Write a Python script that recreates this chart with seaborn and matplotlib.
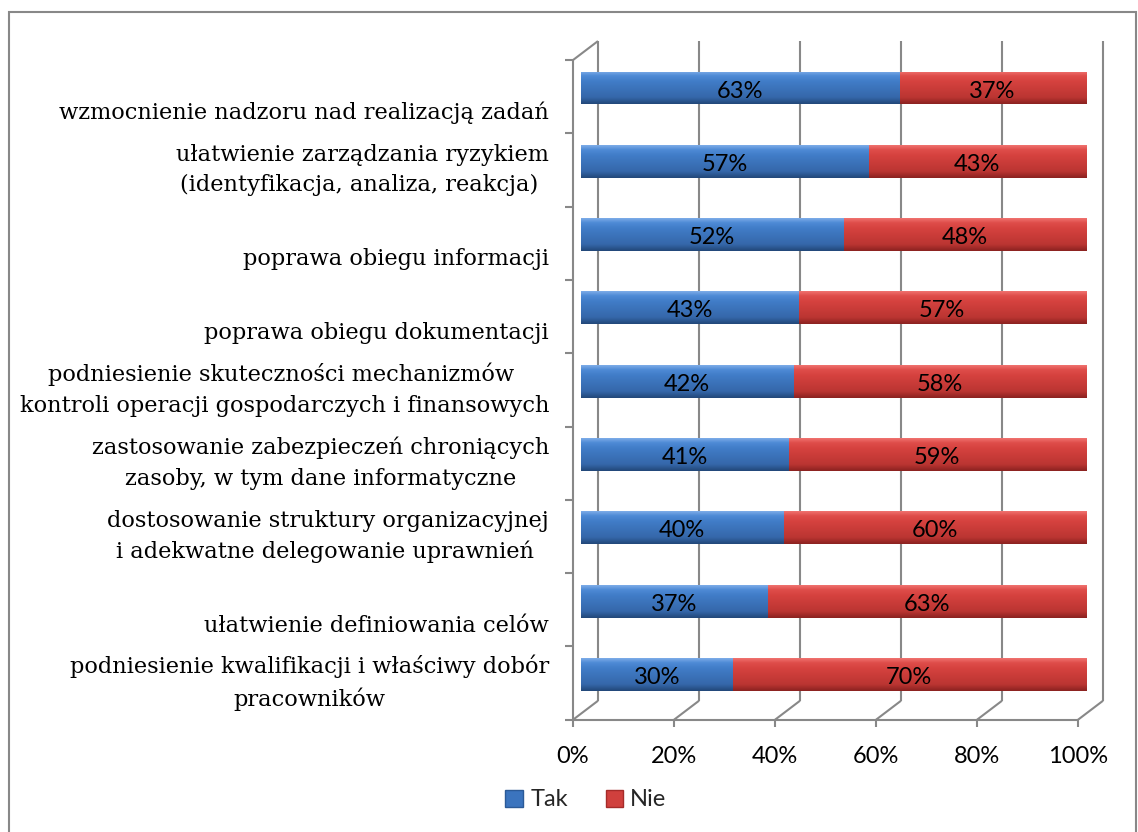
import numpy as np
import pandas as pd
import matplotlib
matplotlib.use("Agg")
import matplotlib.pyplot as plt
import matplotlib.transforms as mtransforms
from matplotlib.colors import LinearSegmentedColormap
from matplotlib.lines import Line2D
from matplotlib.patches import Patch, Rectangle
import seaborn as sns

# ---- data -------------------------------------------------------------
categories = [
    "wzmocnienie nadzoru nad realizacją zadań",
    "ułatwienie zarządzania ryzykiem\n(identyfikacja, analiza, reakcja) ",
    "poprawa obiegu informacji",
    "poprawa obiegu dokumentacji",
    "podniesienie skuteczności mechanizmów \nkontroli operacji gospodarczych i finansowych",
    "zastosowanie zabezpieczeń chroniących\nzasoby, w tym dane informatyczne",
    "dostosowanie struktury organizacyjnej\ni adekwatne delegowanie uprawnień ",
    "ułatwienie definiowania celów",
    "podniesienie kwalifikacji i właściwy dobór\npracowników",
]
tak = [63, 57, 52, 43, 42, 41, 40, 37, 30]
nie = [37, 43, 48, 57, 58, 59, 60, 63, 70]
series_names = ["Tak", "Nie"]
x_ticks = [0, 20, 40, 60, 80, 100]
x_tick_labels = ["0%", "20%", "40%", "60%", "80%", "100%"]

# ---- style ------------------------------------------------------------
sns.set_theme(style="white")
plt.rcParams["font.family"] = ["Lato", "DejaVu Sans"]
SERIF = ["DejaVu Serif"]
GRID = "#888888"
BLUE = "#3B74BE"
RED = "#D0403D"
blue_cmap = LinearSegmentedColormap.from_list(
    "tak", [(0, "#7EADE8"), (0.14, "#4E8AD6"), (0.3, "#417DC8"),
            (0.8, "#3567AA"), (1, "#224778")])
red_cmap = LinearSegmentedColormap.from_list(
    "nie", [(0, "#F07370"), (0.14, "#DF4D4A"), (0.3, "#D6423F"),
            (0.8, "#BB3532"), (1, "#8A2220")])

W, H = 1138, 832
fig = plt.figure(figsize=(W / 100, H / 100), dpi=100)
fig.patch.set_facecolor("white")

# bar plane (mid-depth of the 3D box), in pixels
px_left, px_right = 581, 1086
row0, step = 88, 73.3
y_top_px = row0 - step / 2
y_bot_px = row0 + step * 8.5
ax = fig.add_axes([px_left / W, 1 - y_bot_px / H,
                   (px_right - px_left) / W, (y_bot_px - y_top_px) / H])
ax.patch.set_alpha(0)

df = pd.DataFrame({"kategoria": categories, "Tak": tak, "Nie": nie})
df["suma"] = df["Tak"] + df["Nie"]

# stacked bars: full length in red, "Tak" part in blue on top
sns.barplot(data=df, x="suma", y="kategoria", order=categories, color=RED,
            width=0.45, orient="h", ax=ax, linewidth=0, zorder=3)
sns.barplot(data=df, x="Tak", y="kategoria", order=categories, color=BLUE,
            width=0.45, orient="h", ax=ax, linewidth=0, zorder=3)
ax.set_xlim(0, 100)
ax.set_ylim(8.5, -0.5)
ax.axis("off")

# glossy vertical shading on each bar segment
grad = np.linspace(0, 1, 128).reshape(-1, 1)
n = len(categories)
for k, patch in enumerate(list(ax.patches)):
    cmap = red_cmap if k < n else blue_cmap
    x0, y0 = patch.get_x(), patch.get_y()
    w, h = patch.get_width(), patch.get_height()
    im = ax.imshow(grad, cmap=cmap, extent=(x0, x0 + w, y0 + h, y0),
                   aspect="auto", origin="upper", interpolation="bilinear",
                   zorder=3.5 + (0.1 if k >= n else 0))
    im.set_clip_path(patch)
ax.set_xlim(0, 100)
ax.set_ylim(8.5, -0.5)

# value labels inside the segments
lab_tr = mtransforms.offset_copy(ax.transData, fig=fig, x=0, y=-3, units="dots")
for i, (t, nv) in enumerate(zip(tak, nie)):
    ax.text(t / 2, i, f"{t}%", ha="center", va="center", fontsize=17,
            color="black", transform=lab_tr, zorder=6)
    ax.text(t + nv / 2, i, f"{nv}%", ha="center", va="center", fontsize=17,
            color="black", transform=lab_tr, zorder=6)

# ---- 3D box: front and back planes --------------------------------------
front = mtransforms.offset_copy(ax.transData, fig=fig, x=-8, y=-8.7, units="dots")
back = mtransforms.offset_copy(ax.transData, fig=fig, x=17, y=10.3, units="dots")
to_fig = fig.transFigure.inverted()


def seg(p1, p2):
    a = to_fig.transform(p1)
    b = to_fig.transform(p2)
    fig.add_artist(Line2D([a[0], b[0]], [a[1], b[1]], color=GRID, lw=1.5,
                          solid_capstyle="butt", zorder=-1))


y_lo, y_hi = -0.5, n - 0.5
# back wall gridlines, floor lines, x ticks
for t, lbl in zip(x_ticks, x_tick_labels):
    seg(back.transform((t, y_lo)), back.transform((t, y_hi)))
    seg(front.transform((t, y_hi)), back.transform((t, y_hi)))
    p = front.transform((t, y_hi))
    seg(p, (p[0], p[1] - 7))
    ax.text(t, y_hi, lbl, ha="center", va="center", fontsize=17, color="black",
            transform=mtransforms.offset_copy(front, fig=fig, x=0, y=-37, units="dots"))

# left wall
seg(front.transform((0, y_lo)), front.transform((0, y_hi)))
seg(front.transform((0, y_lo)), back.transform((0, y_lo)))
# front floor edge
seg(front.transform((0, y_hi)), front.transform((100, y_hi)))
# category separators on the left wall
for r in np.arange(y_lo, y_hi + 0.01, 1.0):
    p = front.transform((0, r))
    seg((p[0] - 8, p[1]), p)

# category labels
for i, name in enumerate(categories):
    dy = 0 if "\n" in name else -16
    tr = mtransforms.offset_copy(front, fig=fig, x=-24, y=dy, units="dots")
    ax.text(0, i, name, ha="right", va="center", multialignment="center",
            fontsize=16.2, family=SERIF, color="black", transform=tr,
            linespacing=1.5)

# legend
handles = [Patch(facecolor=BLUE, edgecolor="#2B5A97"),
           Patch(facecolor=RED, edgecolor="#A52B29")]
fig.legend(handles, series_names, loc="center", bbox_to_anchor=(586 / W, 1 - 800 / H),
           ncol=2, frameon=False, fontsize=17, handlelength=0.75, handleheight=0.75,
           handletextpad=0.3, columnspacing=1.6)

# chart area border
fig.add_artist(Rectangle((9 / W, -0.05), (1136 - 9) / W, 1.05 - 12 / H,
                         transform=fig.transFigure, fill=False, edgecolor=GRID,
                         lw=1.5, zorder=-1))

fig.savefig("out.png", dpi=100, facecolor="white")
